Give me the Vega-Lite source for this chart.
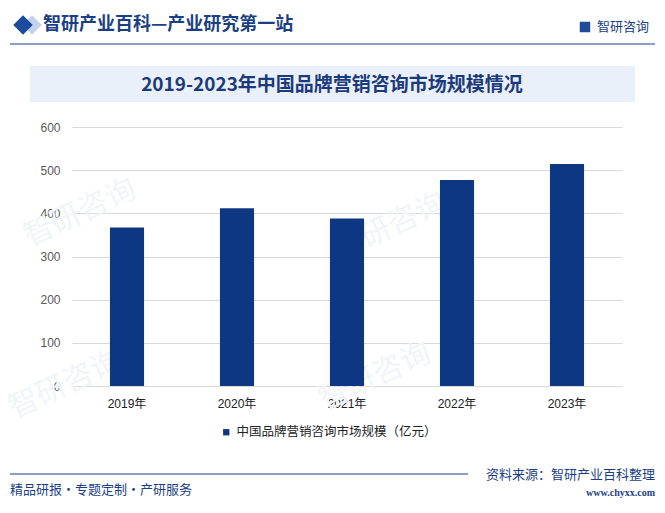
{
  "$schema": "https://vega.github.io/schema/vega-lite/v6.json",
  "width": 550,
  "height": 259,
  "autosize": {"type": "none"},
  "padding": {"left": 72, "top": 127, "right": 43, "bottom": 127},
  "background": "#ffffff",
  "config": {
    "view": {"stroke": null},
    "font": "Liberation Sans, Noto Sans CJK SC, sans-serif"
  },
  "layer": [
    {
      "data": {"values": [{}]},
      "mark": {"type": "text", "text": "智研咨询", "font": "Noto Sans CJK SC", "fontSize": 30, "angle": -25, "color": "#f1f4f8", "align": "center", "baseline": "middle"},
      "encoding": {"x": {"value": 8}, "y": {"value": 86}}
    },
    {
      "data": {"values": [{}]},
      "mark": {"type": "text", "text": "智研咨询", "font": "Noto Sans CJK SC", "fontSize": 30, "angle": -25, "color": "#f1f4f8", "align": "center", "baseline": "middle"},
      "encoding": {"x": {"value": 318}, "y": {"value": 100}}
    },
    {
      "data": {"values": [{}]},
      "mark": {"type": "text", "text": "智研咨询", "font": "Noto Sans CJK SC", "fontSize": 30, "angle": -25, "color": "#f1f4f8", "align": "center", "baseline": "middle"},
      "encoding": {"x": {"value": -7}, "y": {"value": 258}}
    },
    {
      "data": {"values": [{}]},
      "mark": {"type": "text", "text": "智研咨询", "font": "Noto Sans CJK SC", "fontSize": 30, "angle": -25, "color": "#f1f4f8", "align": "center", "baseline": "middle"},
      "encoding": {"x": {"value": 303}, "y": {"value": 250}}
    },
    {
      "data": {"values": [{}]},
      "mark": {"type": "rect", "color": "#eaf0f9"},
      "encoding": {
        "x": {"value": -42}, "x2": {"value": 563},
        "y": {"value": -61}, "y2": {"value": -25}
      }
    },
    {
      "data": {"values": [{}]},
      "mark": {"type": "text", "text": "2019-2023年中国品牌营销咨询市场规模情况", "font": "Noto Sans CJK SC", "fontSize": 19, "fontWeight": "bold", "color": "#1b3a7c", "align": "center", "baseline": "middle"},
      "encoding": {"x": {"value": 260}, "y": {"value": -42}}
    },
    {
      "data": {"values": [{}]},
      "mark": {"type": "rule", "color": "#1f3f86", "strokeWidth": 1},
      "encoding": {"x": {"value": -62}, "x2": {"value": 583}, "y": {"value": -83}}
    },
    {
      "data": {"values": [{}]},
      "mark": {"type": "point", "shape": "diamond", "filled": true, "size": 380, "color": "#c3d3ee", "opacity": 1},
      "encoding": {"x": {"value": -40}, "y": {"value": -102}}
    },
    {
      "data": {"values": [{}]},
      "mark": {"type": "point", "shape": "diamond", "filled": true, "size": 380, "color": "#1c4b9c", "opacity": 1},
      "encoding": {"x": {"value": -49}, "y": {"value": -102}}
    },
    {
      "data": {"values": [{}]},
      "mark": {"type": "text", "text": "智研产业百科—产业研究第一站", "font": "Noto Sans CJK SC", "fontSize": 18, "fontWeight": "bold", "color": "#1b3f84", "align": "left", "baseline": "middle"},
      "encoding": {"x": {"value": -29}, "y": {"value": -102}}
    },
    {
      "data": {"values": [{}]},
      "mark": {"type": "point", "shape": "square", "filled": true, "size": 110, "color": "#1f4c9a", "opacity": 1},
      "encoding": {"x": {"value": 513}, "y": {"value": -100}}
    },
    {
      "data": {"values": [{}]},
      "mark": {"type": "text", "text": "智研咨询", "font": "Noto Sans CJK SC", "fontSize": 13, "color": "#1b3f84", "align": "left", "baseline": "middle"},
      "encoding": {"x": {"value": 525}, "y": {"value": -100}}
    },
    {
      "data": {"values": [{}]},
      "mark": {"type": "rule", "color": "#1f3f86", "strokeWidth": 1},
      "encoding": {"x": {"value": -62}, "x2": {"value": 396}, "y": {"value": 347}}
    },
    {
      "data": {"values": [{}]},
      "mark": {"type": "text", "text": "资料来源：智研产业百科整理", "font": "Noto Sans CJK SC", "fontSize": 13, "color": "#1b3f84", "align": "right", "baseline": "middle"},
      "encoding": {"x": {"value": 583}, "y": {"value": 348}}
    },
    {
      "data": {"values": [{}]},
      "mark": {"type": "text", "text": "www.chyxx.com", "font": "Liberation Serif", "fontSize": 10, "fontWeight": "bold", "color": "#1b3f84", "align": "right", "baseline": "middle"},
      "encoding": {"x": {"value": 583}, "y": {"value": 366}}
    },
    {
      "data": {"values": [{}]},
      "mark": {"type": "text", "text": "精品研报・专题定制・产研服务", "font": "Noto Sans CJK SC", "fontSize": 13, "color": "#1b3f84", "align": "left", "baseline": "middle"},
      "encoding": {"x": {"value": -62}, "y": {"value": 363}}
    },
    {
      "data": {
        "values": [
          {"year": "2019年", "value": 367},
          {"year": "2020年", "value": 412},
          {"year": "2021年", "value": 388},
          {"year": "2022年", "value": 477},
          {"year": "2023年", "value": 514}
        ]
      },
      "mark": {"type": "bar"},
      "encoding": {
        "x": {
          "field": "year", "type": "nominal", "sort": null,
          "scale": {"paddingInner": 0.69, "paddingOuter": 0.345},
          "axis": {"title": null, "labelAngle": 0, "domain": false, "ticks": false, "labelPadding": 12, "labelFontSize": 12, "labelColor": "#222222", "labelFont": "Liberation Sans, Noto Sans CJK SC"}
        },
        "y": {
          "field": "value", "type": "quantitative",
          "scale": {"domain": [0, 600], "nice": false},
          "axis": {"title": null, "values": [0, 100, 200, 300, 400, 500, 600], "domain": false, "ticks": false, "labelPadding": 12, "labelFontSize": 12, "labelColor": "#595959", "gridColor": "#d9d9d9", "labelFont": "Liberation Sans"}
        },
        "color": {
          "datum": "中国品牌营销咨询市场规模（亿元）",
          "type": "nominal",
          "scale": {"range": ["#0e3783"]},
          "legend": {"title": null, "orient": "none", "legendX": 148, "legendY": 299, "symbolType": "square", "symbolSize": 40, "labelFontSize": 12.5, "labelLimit": 0, "labelColor": "#222222", "labelFont": "Noto Sans CJK SC", "symbolOffset": 0, "labelOffset": 4}
        }
      }
    }
  ]
}
